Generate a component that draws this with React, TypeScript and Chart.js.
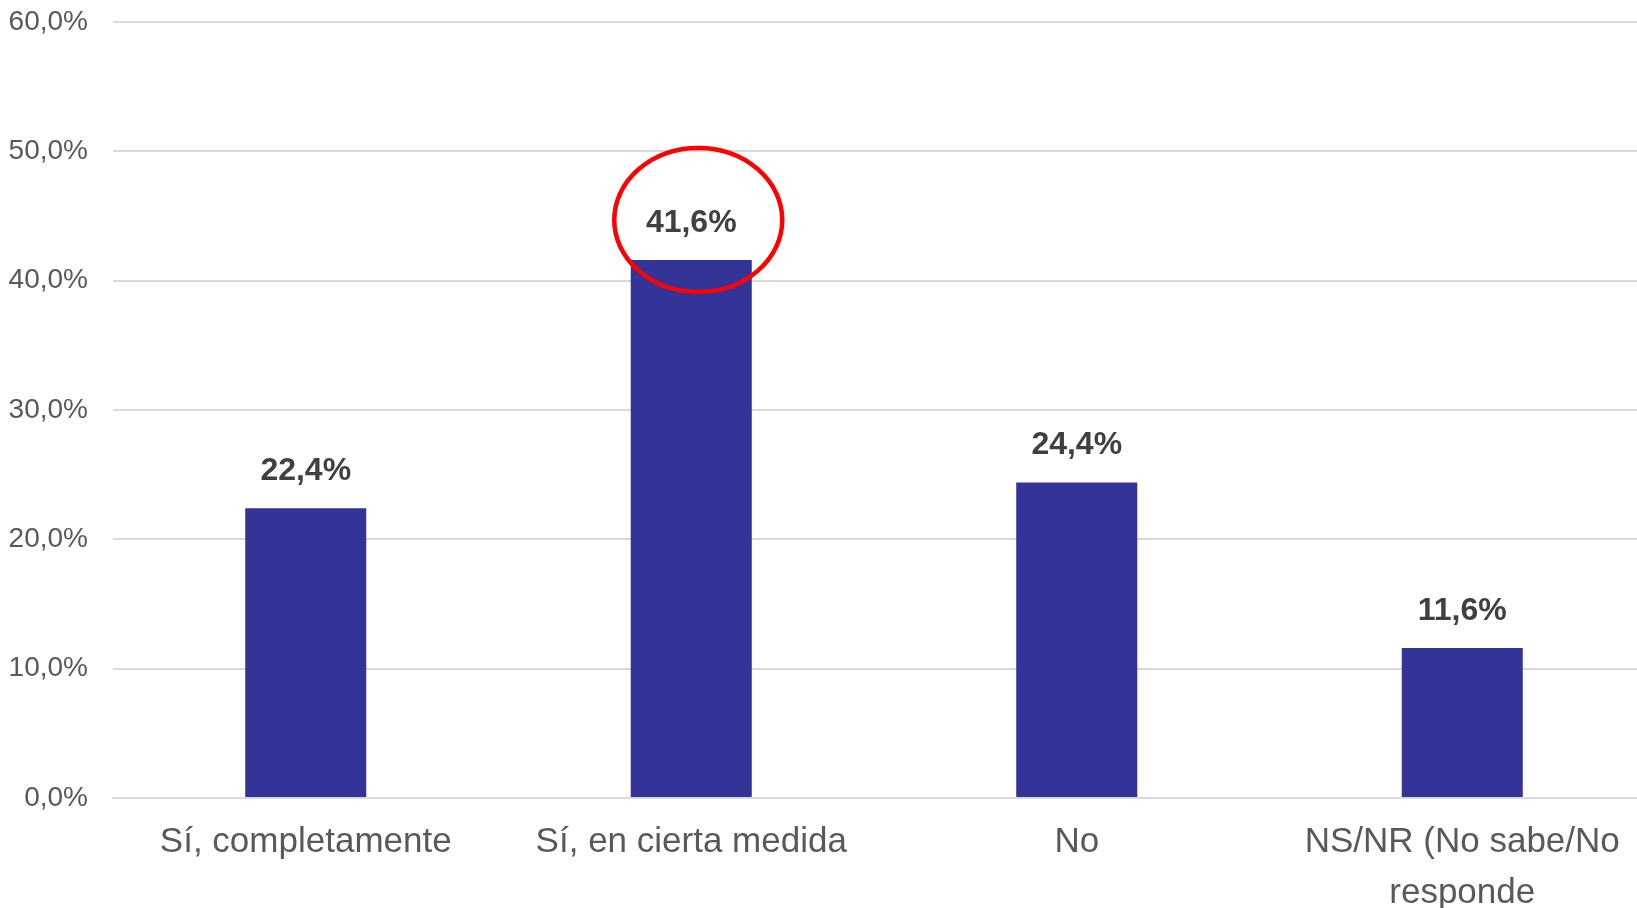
import React, { useEffect, useRef } from "react";
import { Chart, registerables } from "chart.js";

Chart.register(...registerables);

const categories: (string | string[])[] = [
  "Sí, completamente",
  "Sí, en cierta medida",
  "No",
  ["NS/NR (No sabe/No", "responde"],
];
const values: number[] = [22.4, 41.6, 24.4, 11.6];
const yTicks: number[] = [0, 10, 20, 30, 40, 50, 60];
const highlightIndex = 1;

const fmt = (v: number) => v.toFixed(1).replace(".", ",") + "%";

const labelsPlugin = {
  id: "valueLabels",
  afterDatasetsDraw(chart: any) {
    const ctx = chart.ctx;
    const meta = chart.getDatasetMeta(0);
    ctx.save();
    ctx.font = "bold 32px 'Liberation Sans', Arial, sans-serif";
    ctx.fillStyle = "#404040";
    ctx.textAlign = "center";
    ctx.textBaseline = "middle";
    meta.data.forEach((bar: any, i: number) => {
      ctx.fillText(fmt(values[i]), bar.x, bar.y - 37);
    });
    const hb = meta.data[highlightIndex];
    if (hb) {
      ctx.beginPath();
      ctx.ellipse(hb.x + 7, hb.y - 40, 84, 72, 0, 0, Math.PI * 2);
      ctx.strokeStyle = "#ff0000";
      ctx.lineWidth = 4.5;
      ctx.stroke();
    }
    ctx.restore();
  },
};

export default function App() {
  const ref = useRef<HTMLCanvasElement>(null);
  useEffect(() => {
    if (!ref.current) return;
    const chart = new Chart(ref.current, {
      type: "bar",
      data: {
        labels: categories,
        datasets: [
          {
            data: values,
            backgroundColor: "#343397",
            categoryPercentage: 1,
            barPercentage: 0.314,
          },
        ],
      },
      options: {
        animation: false,
        responsive: true,
        maintainAspectRatio: false,
        layout: { padding: { top: 22, left: 0, right: 0, bottom: 0 } },
        plugins: { legend: { display: false }, tooltip: { enabled: false } },
        scales: {
          x: {
            grid: { display: false, drawTicks: false },
            border: { display: true, color: "#d9d9d9", width: 2 },
            ticks: {
              color: "#595959",
              padding: 19,
              maxRotation: 0,
              autoSkip: false,
              font: { family: "'Liberation Sans', Arial, sans-serif", size: 35, lineHeight: 1.45 },
            },
            afterFit: (s: any) => {
              s.height = 110;
              s.paddingLeft = 0;
              s.paddingRight = 0;
            },
          },
          y: {
            min: 0,
            max: 60,
            afterBuildTicks: (s: any) => {
              s.ticks = yTicks.map((v) => ({ value: v }));
            },
            grid: { color: "#d9d9d9", lineWidth: 2, drawTicks: false },
            border: { display: false },
            ticks: {
              color: "#595959",
              padding: 25,
              callback: (v: any) => fmt(Number(v)),
              font: { family: "'Liberation Sans', Arial, sans-serif", size: 28 },
            },
            afterFit: (s: any) => {
              s.width = 113;
              s.paddingTop = 0;
              s.paddingBottom = 0;
            },
          },
        },
      },
      plugins: [labelsPlugin],
    });
    return () => chart.destroy();
  }, []);
  return (
    <div style={{ position: "fixed", left: 0, top: 0, width: 1637, height: 908, overflow: "hidden", background: "#fff" }}>
      <div style={{ position: "relative", width: 1655, height: 908 }}>
        <canvas ref={ref} />
      </div>
    </div>
  );
}
